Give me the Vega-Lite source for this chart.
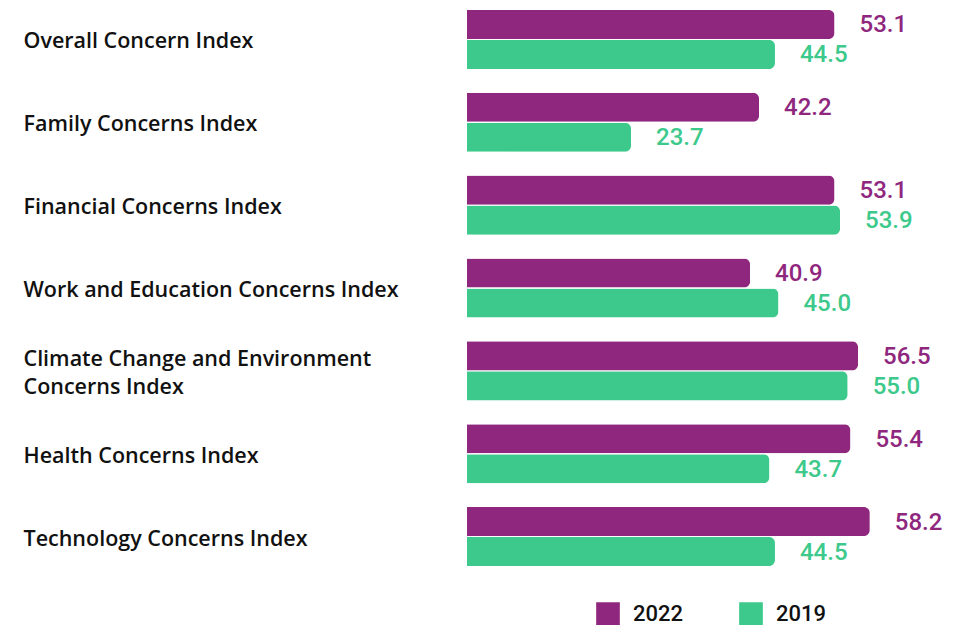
{
  "$schema": "https://vega.github.io/schema/vega-lite/v6.json",
  "autosize": "none",
  "padding": {"left": 467, "top": 0, "right": 0, "bottom": 49},
  "width": 499,
  "height": 576,
  "background": "white",
  "config": {"view": {"stroke": null}, "font": "Roboto"},
  "data": {"values": [
    {"category": "Overall Concern Index", "year": "2022", "value": 53.1},
    {"category": "Overall Concern Index", "year": "2019", "value": 44.5},
    {"category": "Family Concerns Index", "year": "2022", "value": 42.2},
    {"category": "Family Concerns Index", "year": "2019", "value": 23.7},
    {"category": "Financial Concerns Index", "year": "2022", "value": 53.1},
    {"category": "Financial Concerns Index", "year": "2019", "value": 53.9},
    {"category": "Work and Education Concerns Index", "year": "2022", "value": 40.9},
    {"category": "Work and Education Concerns Index", "year": "2019", "value": 45.0},
    {"category": "Climate Change and Environment|Concerns Index", "year": "2022", "value": 56.5},
    {"category": "Climate Change and Environment|Concerns Index", "year": "2019", "value": 55.0},
    {"category": "Health Concerns Index", "year": "2022", "value": 55.4},
    {"category": "Health Concerns Index", "year": "2019", "value": 43.7},
    {"category": "Technology Concerns Index", "year": "2022", "value": 58.2},
    {"category": "Technology Concerns Index", "year": "2019", "value": 44.5}
  ]},
  "encoding": {
    "y": {
      "field": "category", "type": "nominal", "sort": null,
      "scale": {"paddingInner": 0.287, "paddingOuter": 0.12},
      "axis": {
        "title": null, "domain": false, "ticks": false, "labelAlign": "left",
        "labelPadding": 444, "labelFont": "Open Sans", "labelFontSize": 21.5, "labelFontWeight": 600,
        "labelColor": "#111111", "labelLineHeight": 28, "labelLimit": 0,
        "labelOffset": {"condition": {"test": "indexof(datum.value, '|') >= 0", "value": -11}, "value": 3},
        "labelExpr": "split(datum.label, '|')"
      }
    },
    "yOffset": {"field": "year", "type": "nominal", "sort": ["2022", "2019"], "scale": {"paddingInner": 0.03}},
    "x": {"field": "value", "type": "quantitative", "scale": {"domain": [0, 72.1], "nice": false}, "axis": null},
    "color": {
      "field": "year", "type": "nominal",
      "scale": {"domain": ["2022", "2019"], "range": ["#8E277D", "#3DC98B"]},
      "legend": {
        "title": null, "orient": "none", "direction": "horizontal",
        "legendX": 129, "legendY": 602, "symbolType": "square", "symbolSize": 560,
        "symbolStrokeWidth": 0, "symbolOpacity": 1, "labelFontSize": 22, "labelFontWeight": 500,
        "labelColor": "#111111", "labelOffset": 13, "columnPadding": 55, "padding": 0
      }
    }
  },
  "layer": [
    {"mark": {"type": "bar", "cornerRadiusEnd": 6}},
    {
      "mark": {"type": "text", "align": "left", "baseline": "middle", "dx": 25, "dy": 1, "fontSize": 24, "fontWeight": 500},
      "encoding": {"text": {"field": "value", "type": "quantitative", "format": ".1f"}}
    }
  ]
}
